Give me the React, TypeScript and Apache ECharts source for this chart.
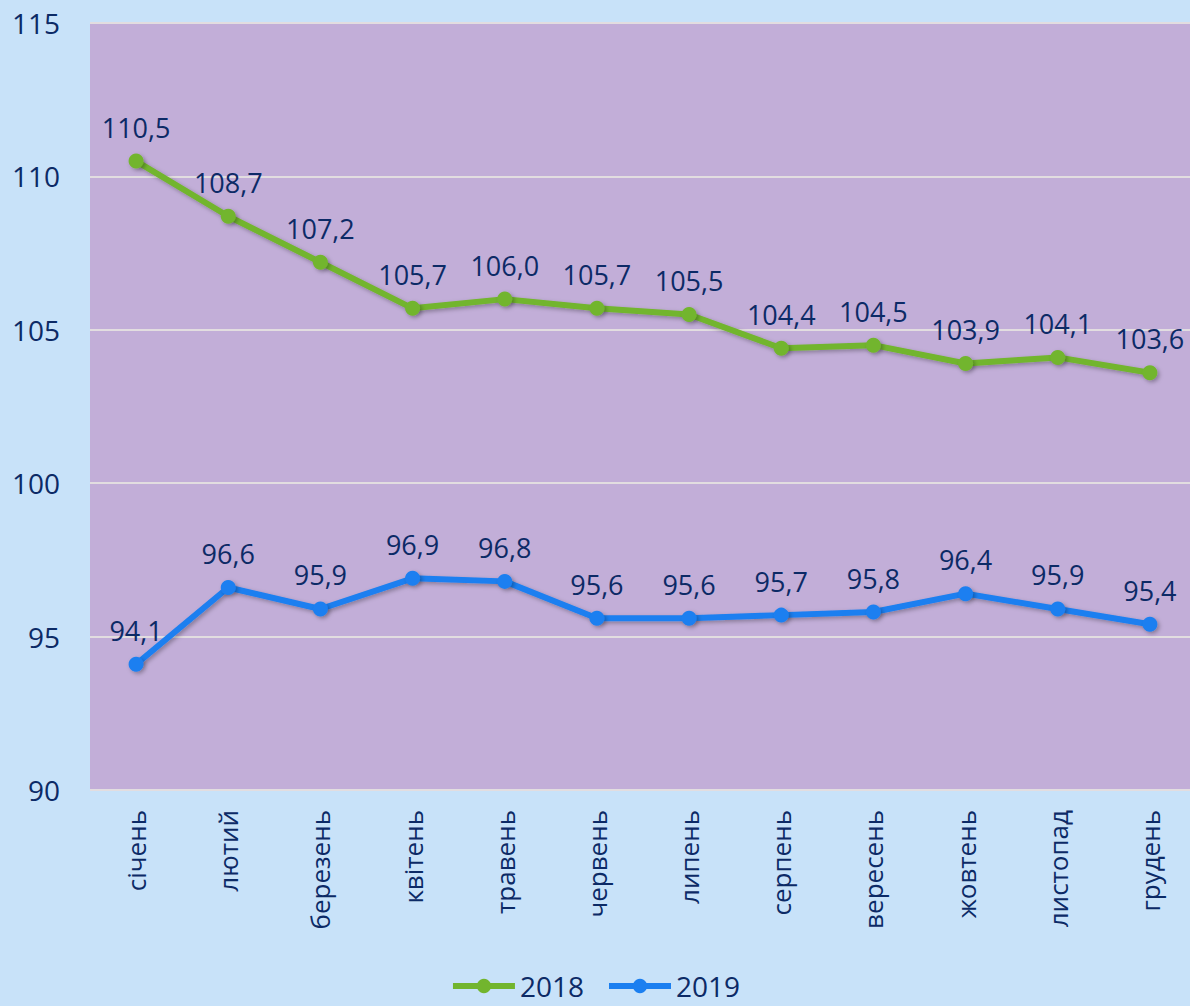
import React, { useEffect, useRef } from "react";
import * as echarts from "echarts";

const months = ["січень", "лютий", "березень", "квітень", "травень", "червень", "липень", "серпень", "вересень", "жовтень", "листопад", "грудень"];
const values2018 = [110.5, 108.7, 107.2, 105.7, 106.0, 105.7, 105.5, 104.4, 104.5, 103.9, 104.1, 103.6];
const values2019 = [94.1, 96.6, 95.9, 96.9, 96.8, 95.6, 95.6, 95.7, 95.8, 96.4, 95.9, 95.4];

const TEXT = "#0c2a66";
const FONT = "'Open Sans', 'Noto Sans', sans-serif";

export default function App() {
  const ref = useRef<HTMLDivElement>(null);
  useEffect(() => {
    const chart = echarts.init(ref.current!, null, { renderer: "svg" });
    const mk = (name: string, data: number[], color: string) => ({
      name,
      type: "line",
      data,
      symbol: "circle",
      symbolSize: 15,
      lineStyle: { width: 6, color, shadowColor: "rgba(0,0,0,0.3)", shadowBlur: 4, shadowOffsetX: 2, shadowOffsetY: 2 },
      itemStyle: { color, shadowColor: "rgba(0,0,0,0.3)", shadowBlur: 4, shadowOffsetX: 2, shadowOffsetY: 2 },
      label: {
        show: true,
        position: "top",
        distance: 13,
        color: TEXT,
        fontSize: 27,
        fontFamily: FONT,
        formatter: (p: any) => p.value.toFixed(1).replace(".", ","),
      },
    });
    chart.setOption({
      animation: false,
      backgroundColor: "#c8e2f9",
      textStyle: { fontFamily: FONT },
      grid: {
        left: 90, width: 1106, top: 23, bottom: 216, show: true, backgroundColor: "#c2aed8", borderWidth: 0,
        outerBoundsMode: "none", containLabel: false,
      },
      legend: {
        bottom: 1,
        left: "center",
        itemWidth: 62,
        itemHeight: 18,
        itemGap: 22,
        lineStyle: { width: 6 },
        textStyle: { color: TEXT, fontSize: 28, fontFamily: FONT },
        data: ["2018", "2019"],
      },
      xAxis: {
        type: "category",
        data: months,
        boundaryGap: true,
        axisLine: { show: false },
        axisTick: { show: false },
        axisLabel: { rotate: 90, color: TEXT, fontSize: 26, fontFamily: FONT, margin: 20, interval: 0 },
      },
      yAxis: {
        type: "value",
        min: 90,
        max: 115,
        interval: 5,
        axisLine: { show: false },
        axisTick: { show: false },
        splitLine: { show: true, lineStyle: { color: "#e2dde0", width: 2 } },
        axisLabel: { color: TEXT, fontSize: 28, fontFamily: FONT, margin: 30 },
      },
      series: [mk("2018", values2018, "#72b52e"), mk("2019", values2019, "#1b7ff0")],
    });
    return () => chart.dispose();
  }, []);
  return <div ref={ref} style={{ width: 1190, height: 1006, position: "absolute", left: 0, top: 0 }} />;
}
